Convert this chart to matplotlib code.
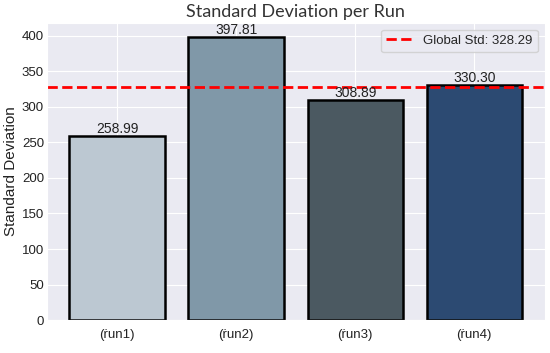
import numpy as np
import seaborn as sns
from matplotlib import pyplot as plt

runs = ["(\u1e59un1)", "(\u1e59un2)", "(\u1e59un3)", "(\u1e59un4)"]
stds = [258.99, 397.81, 308.89, 330.30]
global_std = 328.29
colors = ["#bcc8d2", "#8098a8", "#4b5961", "#2c4a72"]

sns.set_style("darkgrid")
plt.rcParams['font.family'] = ['Liberation Sans', 'DejaVu Sans']

fig, ax = plt.subplots(figsize=(5.5, 3.53), dpi=100)
x = np.arange(len(runs))
bars = ax.bar(x, stds, width=0.8, color=colors, edgecolor="black", linewidth=1.8)
for b, v in zip(bars, stds):
    ax.text(b.get_x() + b.get_width() / 2, v, f"{v:.2f}", ha="center", va="bottom",
            fontsize=10, color="#222222")
ax.axhline(global_std, color="red", linestyle="--", linewidth=2, label=f"Global Std: {global_std:.2f}")
ax.set_xticks(x)
ax.set_xticklabels(runs)
ax.tick_params(axis="both", labelsize=9.5, length=0, labelcolor="#222222")
ax.tick_params(axis="y", pad=2)
ax.tick_params(axis="x", pad=6)
ax.set_ylabel("Standard Deviation", fontsize=11, labelpad=3, color="#222222")
ax.set_title("Standard Deviation per Run", fontsize=13, color="#333333",
             family=["Lato", "DejaVu Sans"], pad=4)
ax.legend(loc="upper right", fontsize=9.5)
fig.subplots_adjust(left=0.085, right=0.99, top=0.935, bottom=0.093)
fig.savefig("out.png")
